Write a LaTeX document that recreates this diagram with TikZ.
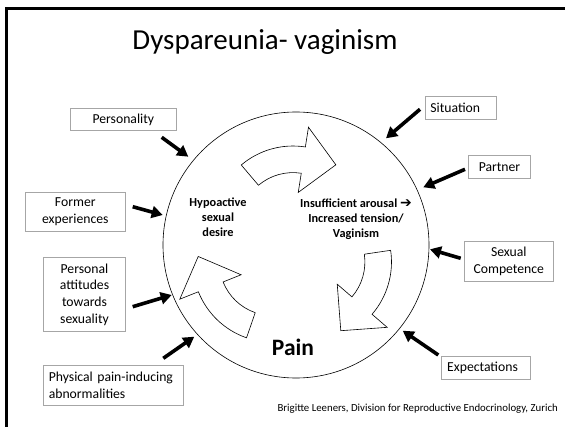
\documentclass[tikz,border=0pt]{standalone}
\usepackage{fontspec}
\setmainfont{Carlito}
\newfontfamily\symfont{DejaVu Sans}
\usetikzlibrary{arrows.meta}
\definecolor{boxgray}{RGB}{166,166,166}
\begin{document}
\begin{tikzpicture}[x=1pt,y=1pt,
  factorbox/.style={draw=boxgray, fill=white, line width=0.6pt, inner sep=0pt,
    font=\fontsize{13.7}{16.7}\selectfont, align=center},
  leftbox/.style={factorbox, inner xsep=5.5pt, align=left},
  stage/.style={font=\bfseries\fontsize{12.3}{15}\selectfont, align=center, inner sep=0pt},
  influence/.style={line width=3.6pt, -{Triangle[length=11pt,width=12pt]}},
  blockarrow/.style={draw=black, fill=white, line width=0.6pt, line join=miter},
  cycarrow/.pic={
    \path[blockarrow] (0:53.4) -- (0:80) arc[start angle=0, end angle=-49.2, radius=80]
      -- (-49.2:100) -- (-75.3:74.7) -- (-49.2:34) -- (-49.2:53.4)
      arc[start angle=-49.2, end angle=0, radius=53.4] -- cycle;
  }]
\useasboundingbox (0,0) rectangle (565,426);
% slide frame (left and top edges visible)
\draw[line width=2.6pt] (6.5,-10) -- (6.5,417.3) -- (575,417.3);

\node (title) at (265,384) {\fontsize{29}{35}\selectfont Dyspareunia- vaginism};

% the cycle
\node[draw, circle, line width=0.6pt, minimum size=266pt, inner sep=0pt] (cycle) at (296,181) {};
\pic[rotate=130.3] at (293,200) {cycarrow};
\pic[rotate=8.4] at (311.5,164) {cycarrow};
\pic[rotate=250.9] at (272.7,163.8) {cycarrow};

\node[stage] (desire) at (218,209) {Hypoactive\\sexual\\desire};
\node[stage] (arousal) at (356,207) {Insufficient arousal {\symfont\bfseries\fontsize{14}{15}\selectfont ➔}\\Increased tension/\\Vaginism};
\node[font=\bfseries\fontsize{23.5}{28}\selectfont, inner sep=0pt] (pain) at (293,79) {Pain};

% influencing factors
\node[factorbox, minimum width=106.7pt, minimum height=22.4pt] (personality) at (123.3,306.5) {Personality};
\node[factorbox, minimum width=100.7pt, minimum height=39.4pt] (former) at (75.3,214) {Former\\experiences};
\node[factorbox, minimum width=82.4pt, minimum height=74.4pt] (attitudes) at (84.5,131.5) {Personal\\attitudes\\towards\\sexuality};
\node[leftbox, text width=129pt, minimum height=40pt] (physical) at (113.3,41) {Physical pain-inducing\\abnormalities};
\node[leftbox, text width=60.7pt, minimum height=23.3pt] (situation) at (460.8,318.3) {Situation};
\node[factorbox, minimum width=62.4pt, minimum height=23.7pt] (partner) at (499.5,259.1) {Partner};
\node[factorbox, minimum width=89pt, minimum height=39.3pt] (competence) at (508.8,164.6) {Sexual\\Competence};
\node[leftbox, text width=78pt, minimum height=22.6pt] (expectations) at (486.2,58) {Expectations};

% arrows pointing at the circle
\coordinate (pA) at (161.7,288.7); \coordinate (pB) at (188.3,269.3);
\coordinate (fA) at (132.7,219.3); \coordinate (fB) at (162.7,211);
\coordinate (aA) at (132.7,119.3); \coordinate (aB) at (171.7,131);
\coordinate (yA) at (163.3,67.7);  \coordinate (yB) at (194.3,89.3);
\coordinate (sA) at (420,316.7);   \coordinate (sB) at (386,287.7);
\coordinate (rA) at (465,256.7);   \coordinate (rB) at (423.3,238.7);
\coordinate (cA) at (460.7,167.7); \coordinate (cB) at (430,176.7);
\coordinate (eA) at (438.3,71);    \coordinate (eB) at (402.7,95.3);
\foreach \s in {p,f,a,y,s,r,c,e} \draw[influence] (\s A) -- (\s B);

\node[anchor=east, inner sep=0pt, font=\fontsize{10.8}{13}\selectfont] (credit) at (558,17)
  {Brigitte Leeners, Division for Reproductive Endocrinology, Zurich};
\end{tikzpicture}
\end{document}
